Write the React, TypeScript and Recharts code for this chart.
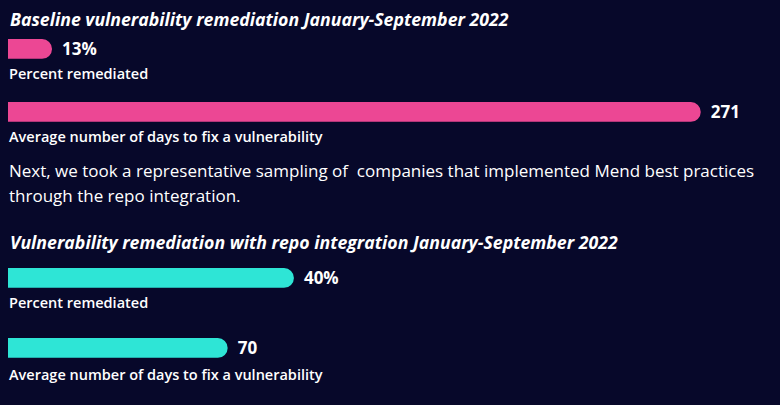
import { Bar, BarChart, LabelList, XAxis, YAxis } from "recharts";

// metric rows, shared by both panels
const metricLabels = ["Percent remediated", "Average number of days to fix a vulnerability"];
const metricUnits = ["%", ""];
const baselineValues = [13, 271];
const repoValues = [40, 70];
// the infographic draws each bar on its own scale
const baselineAxisMax = [228, 302];
const repoAxisMax = [108, 246];

const titles = [
  "Baseline vulnerability remediation January-September 2022",
  "Vulnerability remediation with repo integration January-September 2022",
];
const paragraph = [
  "Next, we took a representative sampling of  companies that implemented Mend best practices",
  "through the repo integration.",
];

const font = "'Open Sans', 'Noto Sans', sans-serif";
const bg = "#07082a";
const pink = "#ec4794";
const teal = "#2ee5d6";

function MetricBar({ value, max, unit, color, top }: { value: number; max: number; unit: string; color: string; top: number }) {
  const rows = [{ name: "m", value }];
  return (
    <div style={{ position: "absolute", left: 0, top }}>
      <BarChart width={780} height={22} data={rows} layout="vertical" margin={{ top: 0, right: 0, left: 8, bottom: 0 }}>
        <XAxis type="number" hide domain={[0, max]} />
        <YAxis type="category" dataKey="name" hide />
        <Bar dataKey="value" fill={color} barSize={22} radius={[0, 11, 11, 0]} isAnimationActive={false}>
          <LabelList
            dataKey="value"
            position="right"
            offset={10}
            formatter={(v: any) => `${v}${unit}`}
            style={{ fill: "#ffffff", fontSize: 17, fontWeight: 700, fontFamily: font }}
          />
        </Bar>
      </BarChart>
    </div>
  );
}

function Text({ children, top, size, weight = 400, italic = false, left = 9 }: any) {
  return (
    <div
      style={{
        position: "absolute",
        left,
        top: top - 12,
        height: 24,
        lineHeight: "24px",
        fontSize: size,
        fontWeight: weight,
        fontStyle: italic ? "italic" : "normal",
        color: "#ffffff",
        whiteSpace: "pre",
        fontFamily: font,
      }}
    >
      {children}
    </div>
  );
}

export default function App() {
  return (
    <div style={{ position: "absolute", left: 0, top: 0, width: 780, height: 405, background: bg, overflow: "hidden" }}>
      <Text top={19} size={17.7} weight={700} italic left={10}>{titles[0]}</Text>
      <MetricBar value={baselineValues[0]} max={baselineAxisMax[0]} unit={metricUnits[0]} color={pink} top={38} />
      <Text top={74} size={14.5} weight={600}>{metricLabels[0]}</Text>
      <MetricBar value={baselineValues[1]} max={baselineAxisMax[1]} unit={metricUnits[1]} color={pink} top={101} />
      <Text top={137} size={14.5} weight={600}>{metricLabels[1]}</Text>

      <Text top={171} size={17}>{paragraph[0]}</Text>
      <Text top={196} size={17}>{paragraph[1]}</Text>

      <Text top={242} size={17.7} weight={700} italic left={10}>{titles[1]}</Text>
      <MetricBar value={repoValues[0]} max={repoAxisMax[0]} unit={metricUnits[0]} color={teal} top={267} />
      <Text top={303} size={14.5} weight={600}>{metricLabels[0]}</Text>
      <MetricBar value={repoValues[1]} max={repoAxisMax[1]} unit={metricUnits[1]} color={teal} top={337} />
      <Text top={375} size={14.5} weight={600}>{metricLabels[1]}</Text>
    </div>
  );
}
